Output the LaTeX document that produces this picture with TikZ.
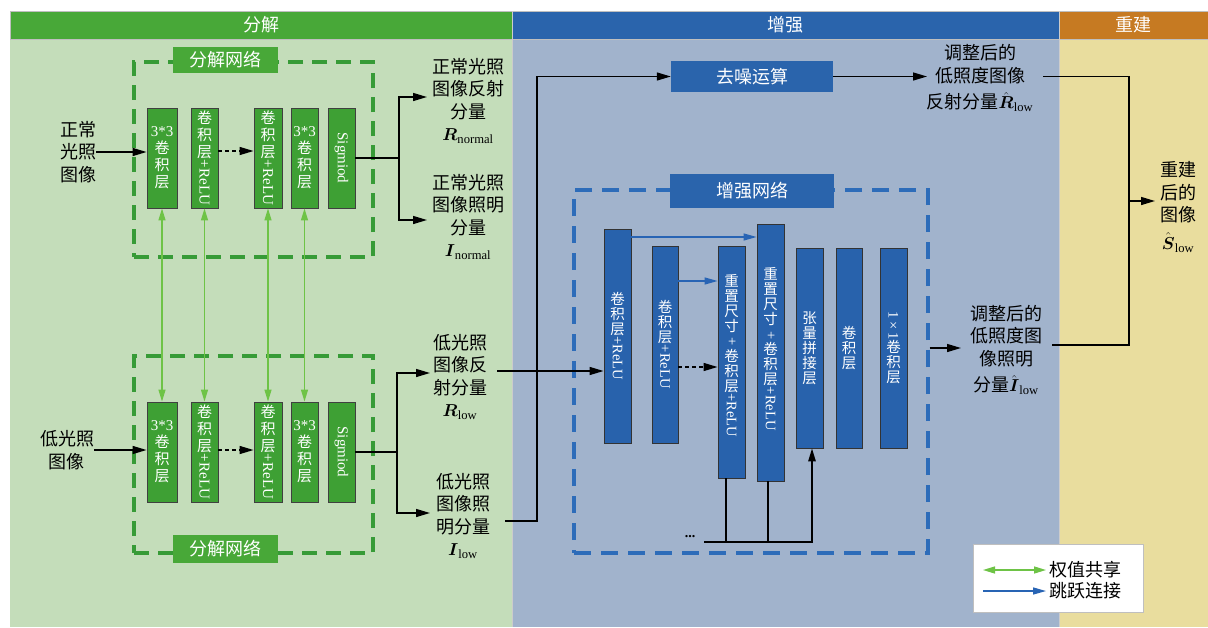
\documentclass[tikz,border=0pt]{standalone}
\usepackage{fontspec}
\usepackage{amsmath}
\usepackage{graphicx}
\setmainfont{Liberation Serif}
\newfontfamily\cjk{Noto Sans CJK SC}
\usetikzlibrary{arrows.meta}
\definecolor{pgreen}{RGB}{196,221,186}
\definecolor{pblue}{RGB}{161,179,204}
\definecolor{pyellow}{RGB}{233,221,158}
\definecolor{hgreen}{RGB}{72,168,56}
\definecolor{hblue}{RGB}{42,100,172}
\definecolor{horange}{RGB}{198,122,34}
\definecolor{blkgreen}{RGB}{62,160,52}
\definecolor{blkblue}{RGB}{40,98,172}
\definecolor{gdashc}{RGB}{55,155,55}
\definecolor{bdashc}{RGB}{45,108,185}
\definecolor{agreen}{RGB}{110,195,70}
\definecolor{askip}{RGB}{40,100,180}
\newcommand{\rl}[1]{\rotatebox[origin=c]{-90}{\rmfamily #1}}
\begin{document}
\begin{tikzpicture}[x=1pt,y=-1pt,
  lbl/.style={font=\cjk\fontsize{18}{22.5}\selectfont, align=center, inner sep=0pt},
  hdr/.style={font=\cjk\fontsize{18}{22}\selectfont, text=white, inner sep=0pt},
  gblk/.style={draw=black!75, line width=0.9pt, fill=blkgreen, text=white, inner sep=0pt,
    minimum height=100pt, font=\cjk\fontsize{15}{17}\selectfont, align=center},
  bblk/.style={draw=black!80, line width=0.9pt, fill=blkblue, text=white, inner sep=0pt,
    font=\cjk\fontsize{14.5}{15}\selectfont, align=center},
  gdashbox/.style={draw=gdashc, line width=3.4pt, dash pattern=on 15pt off 9pt, inner sep=0pt},
  bdashbox/.style={draw=bdashc, line width=3.2pt, dash pattern=on 17pt off 10pt, inner sep=0pt},
  glab/.style={fill=hgreen, text=white, inner sep=0pt, font=\cjk\fontsize{18}{22}\selectfont},
  blab/.style={fill=hblue, text=white, inner sep=0pt, font=\cjk\fontsize{18}{22}\selectfont},
  conn/.style={line width=1.4pt, draw=black},
  arr/.style={conn, -{Triangle[length=14pt,width=8pt]}},
  darr/.style={arr, dash pattern=on 4pt off 3pt},
  share/.style={draw=agreen, line width=1.3pt, {Triangle[length=12pt,width=7pt]}-{Triangle[length=12pt,width=7pt]}},
  skip/.style={draw=askip, line width=1.3pt, -{Triangle[length=13pt,width=7pt]}}
]
\path[use as bounding box] (0,0) rectangle (1208,627);
\fill[white] (0,0) rectangle (1208,627);
% panels
\fill[pgreen] (10,39) rectangle (512,627);
\fill[pblue] (512,39) rectangle (1059,627);
\fill[pyellow] (1059,39) rectangle (1208,627);
\fill[hgreen] (10,11) rectangle (512,39);
\fill[hblue] (512,11) rectangle (1059,39);
\fill[horange] (1059,11) rectangle (1208,39);
\draw[black!25, line width=0.8pt] (10,11) rectangle (1208,39);
\draw[black!20, line width=0.8pt] (512,11) -- (512,627) (1059,11) -- (1059,627);
\node[hdr] (h1) at (261,25) {分解};
\node[hdr] (h2) at (785,25) {增强};
\node[hdr] (h3) at (1133,25) {重建};

% ---- decomposition, top
\node[gdashbox, minimum width=239pt, minimum height=195pt] (boxA) at (253.5,159.5) {};
\node[glab, minimum width=105pt, minimum height=26pt] (labA) at (225.5,60) {分解网络};
\node[gblk, minimum width=30pt] (gA1) at (162,158) {{\rmfamily 3*3}\\卷\\积\\层};
\node[gblk, minimum width=27pt] (gA2) at (204.5,158) {卷\\积\\层\\\rl{+ReLU}};
\node[gblk, minimum width=28pt] (gA3) at (268,158) {卷\\积\\层\\\rl{+ReLU}};
\node[gblk, minimum width=27pt] (gA4) at (304.5,158) {{\rmfamily 3*3}\\卷\\积\\层};
\node[gblk, minimum width=27pt] (gA5) at (341.5,158) {\rl{Sigmiod}};
\node[lbl] (in1) at (78,152) {正常\\光照\\图像};
\node[lbl] (Rn) at (468,101) {正常光照\\图像反射\\分量\\$\boldsymbol{R}_{\mathrm{normal}}$};
\node[lbl] (In) at (468,217) {正常光照\\图像照明\\分量\\$\boldsymbol{I}_{\mathrm{normal}}$};

% ---- decomposition, bottom
\node[gdashbox, minimum width=239pt, minimum height=197pt] (boxB) at (253.5,454.5) {};
\node[glab, minimum width=105pt, minimum height=28pt] (labB) at (225.5,549) {分解网络};
\node[gblk, minimum width=30pt] (gB1) at (162,452) {{\rmfamily 3*3}\\卷\\积\\层};
\node[gblk, minimum width=27pt] (gB2) at (204.5,452) {卷\\积\\层\\\rl{+ReLU}};
\node[gblk, minimum width=28pt] (gB3) at (268,452) {卷\\积\\层\\\rl{+ReLU}};
\node[gblk, minimum width=27pt] (gB4) at (304.5,452) {{\rmfamily 3*3}\\卷\\积\\层};
\node[gblk, minimum width=27pt] (gB5) at (341.5,452) {\rl{Sigmiod}};
\node[lbl] (in2) at (67,450) {低光照\\图像};
\node[lbl] (Rl) at (460,377) {低光照\\图像反\\射分量\\$\boldsymbol{R}_{\mathrm{low}}$};
\node[lbl] (Il) at (463,516) {低光照\\图像照\\明分量\\$\boldsymbol{I}_{\mathrm{low}}$};

% connectors decomposition
\draw[arr] (in1) -- (in1 -| gA1.west);
\draw[darr] ([yshift=7pt]gA2.east) -- ([yshift=7pt]gA3.west);
\coordinate (sA) at (399,158);
\coordinate (tRn) at (427,97);
\coordinate (tIn) at (427,220);
\draw[conn] (gA5.east) -- (sA);
\draw[arr] (sA) |- (tRn);
\draw[arr] (sA) |- (tIn);

\draw[arr] (in2) -- (in2 -| gB1.west);
\draw[darr] ([yshift=2pt]gB2.east) -- ([yshift=2pt]gB3.west);
\coordinate (sB) at (397,452);
\coordinate (tRl) at (430,373);
\coordinate (tIl) at (430,513);
\draw[conn] (gB5.east) -- (sB);
\draw[arr] (sB) |- (tRl);
\draw[arr] (sB) |- (tIl);

\draw[share] (gA1.south) -- (gB1.north);
\draw[share] (gA2.south) -- (gB2.north);
\draw[share] (gA3.south) -- (gB3.north);
\draw[share] (gA4.south) -- (gB4.north);

% ---- enhancement
\node[blab, minimum width=162pt, minimum height=31pt] (den) at (752,76.5) {去噪运算};
\node[bdashbox, minimum width=354pt, minimum height=363pt] (eBox) at (751,371.5) {};
\node[blab, minimum width=164pt, minimum height=34pt] (eLab) at (752,191) {增强网络};
\node[bblk, minimum width=27pt, minimum height=214pt] (eB1) at (617.5,336) {卷\\积\\层\\\rl{+ReLU}};
\node[bblk, minimum width=26pt, minimum height=197pt] (eB2) at (665,344.5) {卷\\积\\层\\\rl{+ReLU}};
\node[bblk, minimum width=27pt, minimum height=232pt] (eB3) at (731.5,362) {重\\置\\尺\\寸\\\rl{+}\\卷\\积\\层\\\rl{+ReLU}\\[12pt]};
\node[bblk, minimum width=27pt, minimum height=257pt] (eB4) at (770.5,352.5) {重\\置\\尺\\寸\\\rl{+}\\卷\\积\\层\\\rl{+ReLU}\\[6pt]};
\node[bblk, minimum width=27pt, minimum height=200pt] (eB5) at (809.5,348) {张\\量\\拼\\接\\层};
\node[bblk, minimum width=26pt, minimum height=200pt] (eB6) at (849,348) {卷\\积\\层};
\node[bblk, minimum width=27pt, minimum height=200pt] (eB7) at (893.5,348) {\rl{1\,×\,1}\\卷\\积\\层};

\coordinate (oRl) at (497,371);
\draw[arr] (oRl) -- (oRl -| eB1.west);
\coordinate (oIl) at (505,521);
\coordinate (k1) at (537,521);
\draw[arr] (oIl) -- (k1) |- (den.west);

\draw[skip] (eB1.east |- 0,237) -- (eB4.west |- 0,237);
\draw[skip] (eB2.east |- 0,281) -- (eB3.west |- 0,281);
\draw[darr] (eB2.east |- 0,367) -- (eB3.west |- 0,367);

\coordinate (bl) at (704,542);
\draw[conn] ([xshift=-5.5pt]eB3.south) -- ([xshift=-5.5pt]eB3.south |- bl);
\draw[conn] ([xshift=-2.5pt]eB4.south) -- ([xshift=-2.5pt]eB4.south |- bl);
\draw[conn, -{Triangle[length=13pt,width=7.5pt]}] (bl) -| ([xshift=2.5pt]eB5.south);
\node[font=\rmfamily\bfseries\fontsize{14}{14}\selectfont, inner sep=0pt] (dots) at (690,537) {...};

% outputs
\node[lbl] (Rh) at (980,78) {调整后的\\低照度图像\\[4pt]反射分量$\hat{\boldsymbol{R}}_{\mathrm{low}}$};
\node[lbl] (Ih) at (1006,350) {调整后的\\低照度图\\像照明\\[4pt]分量$\hat{\boldsymbol{I}}_{\mathrm{low}}$};
\node[lbl] (Sh) at (1178,207) {重建\\后的\\图像\\[5pt]$\hat{\boldsymbol{S}}_{\mathrm{low}}$};

\coordinate (tRh) at (927,76.5);
\draw[arr] (den.east) -- (tRh);
\coordinate (tIh) at (961,348);
\draw[arr] (eBox.east |- tIh) -- (tIh);
\coordinate (oRh) at (1043,76.5);
\coordinate (m1) at (1129,76.5);
\coordinate (m2) at (1129,345);
\coordinate (oIh) at (1052,345);
\draw[conn] (oRh) -- (m1) -- (m2) -- (oIh);
\coordinate (mS) at (1129,201);
\coordinate (tSh) at (1155,201);
\draw[arr] (mS) -- (tSh);

% legend
\node[draw=black!25, fill=white, line width=0.8pt, minimum width=170pt, minimum height=68pt] (leg) at (1058,578) {};
\coordinate (lg1) at (983,570);
\coordinate (lg2) at (1046,570);
\coordinate (lb1) at (983,591);
\coordinate (lb2) at (1046,591);
\draw[share] (lg1) -- (lg2);
\draw[skip] (lb1) -- (lb2);
\node[lbl, anchor=west] (lt1) at (1049,570) {权值共享};
\node[lbl, anchor=west] (lt2) at (1049,591) {跳跃连接};
\end{tikzpicture}
\end{document}
